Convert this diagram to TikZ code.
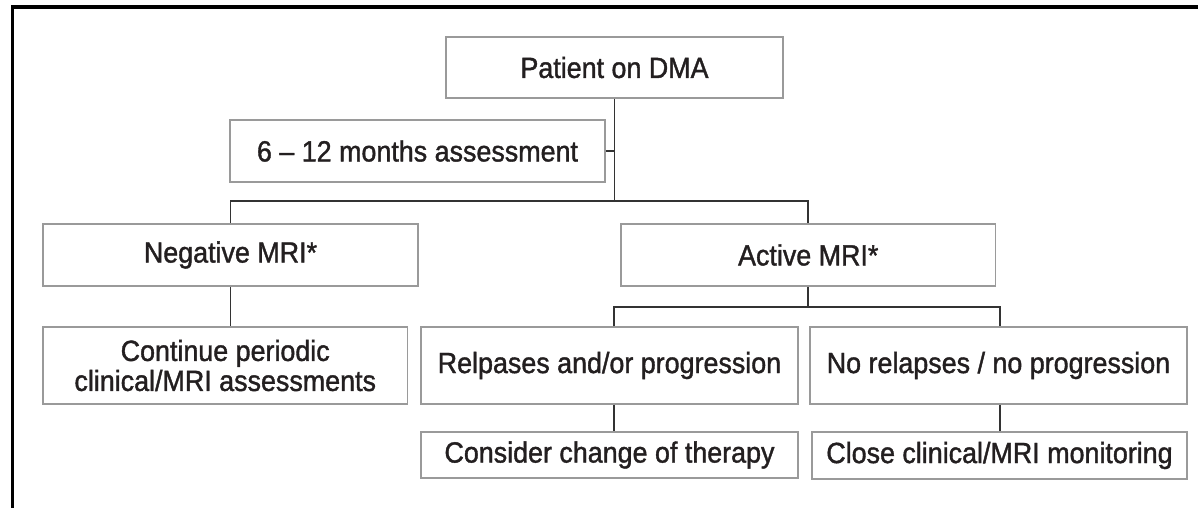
\documentclass[tikz,border=0pt]{standalone}
\usepackage{fontspec}
\setmainfont{Liberation Sans}[FakeStretch=0.92, FakeBold=1.3]
\begin{document}
\begin{tikzpicture}[x=0.5pt,y=-0.5pt,
  box/.style={draw=boxgray, line width=0.75pt, inner sep=0pt, align=center,
    text=txt, font=\fontsize{14.6}{15}\selectfont},
  link/.style={draw=linegray, line width=0.8pt},
  frame/.style={draw=black, line width=1.6pt}]
\definecolor{boxgray}{HTML}{9A9A9A}
\definecolor{linegray}{HTML}{333333}
\definecolor{txt}{HTML}{231F20}
\useasboundingbox (0,0) rectangle (1198,508);
\fill[white] (0,0) rectangle (1198,508);
% outer frame (only top and left edges visible)
\draw[frame] (12.6,508) -- (12.6,7) -- (1198,7);
% boxes
\node[box, minimum width=168.5pt, minimum height=30.5pt] (P) at (614.5,67.5) {Patient on DMA};
\node[box, minimum width=187.5pt, minimum height=31pt] (S) at (417.5,151) {6 – 12 months assessment};
\node[box, minimum width=187.5pt, minimum height=31pt] (N) at (230.5,255) {Negative MRI*};
\node[box, minimum width=187.25pt, minimum height=31pt] (A) at (808.25,255) {Active MRI*};
\node[box, minimum width=182.25pt, minimum height=38.5pt] (C) at (225.25,365.5) {Continue periodic\\clinical/MRI assessments};
\node[box, minimum width=188.5pt, minimum height=38.5pt] (R) at (609.5,365.5) {Relpases and/or progression};
\node[box, minimum width=188.5pt, minimum height=38.5pt] (NR) at (998.5,365.5) {No relapses / no progression};
\node[box, minimum width=188.5pt, minimum height=23pt] (CT) at (609.5,455) {Consider change of therapy};
\node[box, minimum width=187.5pt, minimum height=23.5pt] (CM) at (999.5,455.5) {Close clinical/MRI monitoring};
% junction coordinates
\coordinate (j1) at (614.5,201);
\coordinate (j2) at (808.25,307);
\coordinate (k1) at (614,307);
\coordinate (k2) at (1000,307);
% connectors
\draw[link] (P.south) -- (j1);
\draw[link] (S.east) -- (S.east -| P.south);
\draw[link] (N.north) |- (j1) -| (A.north);
\draw[link] (N.south) -- (N.south |- C.north);
\draw[link] (A.south) -- (j2);
\draw[link] (k1 |- R.north) -- (k1) -- (k2) -- (k2 |- NR.north);
\draw[link] (k1 |- R.south) -- (k1 |- CT.north);
\draw[link] (k2 |- NR.south) -- (k2 |- CM.north);
\end{tikzpicture}
\end{document}
